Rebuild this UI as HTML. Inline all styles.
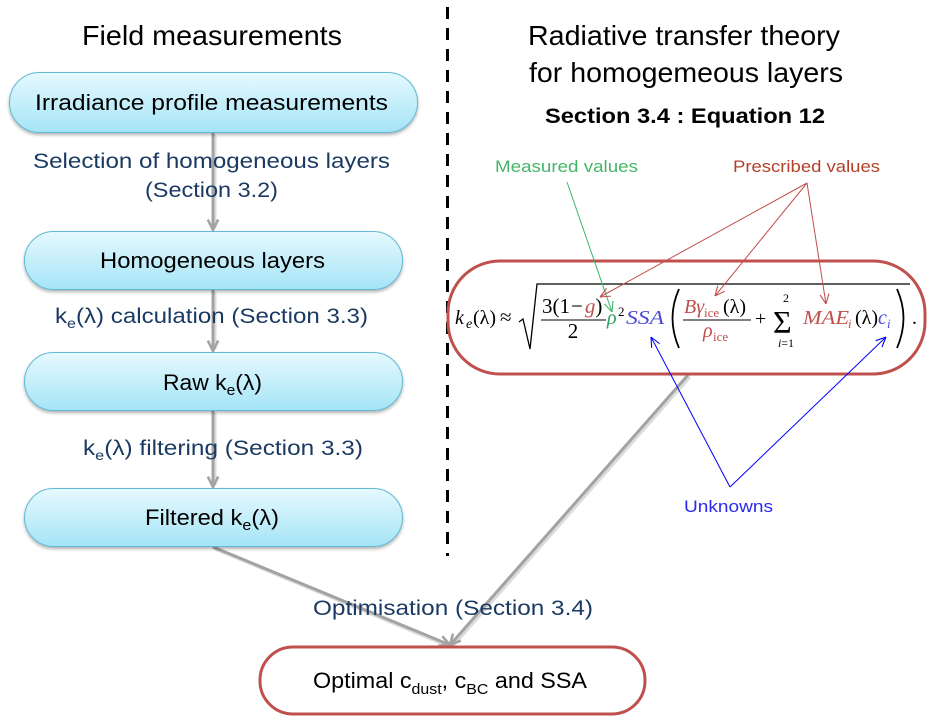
<!DOCTYPE html>
<html><head><meta charset="utf-8"><style>
html,body{margin:0;padding:0;background:#fff;}
svg{display:block;}
text{font-family:"Liberation Sans",sans-serif;}
.m{font-family:"Liberation Serif",serif;}
</style></head><body>
<svg width="933" height="722" viewBox="0 0 933 722" xmlns="http://www.w3.org/2000/svg">
<defs>
<linearGradient id="bg" x1="0" y1="0" x2="0" y2="1">
<stop offset="0" stop-color="#e6f9fe"/><stop offset="1" stop-color="#a4e4f7"/>
</linearGradient>
<filter id="sh" x="-5%" y="-20%" width="110%" height="150%">
<feDropShadow dx="0" dy="2" stdDeviation="1.5" flood-color="#000" flood-opacity="0.3"/>
</filter>
<marker id="mg" viewBox="0 0 10 10" refX="9" refY="5" markerWidth="13" markerHeight="13" markerUnits="userSpaceOnUse" orient="auto"><path d="M1,1 L9,5 L1,9" fill="none" stroke="#a3a3a3" stroke-width="2"/></marker>
<marker id="mr" viewBox="0 0 10 10" refX="10" refY="5" markerWidth="10" markerHeight="10" markerUnits="userSpaceOnUse" orient="auto"><path d="M0,0.5 L10,5 L0,9.5" fill="none" stroke="#c0504d" stroke-width="1.1"/></marker>
<marker id="mgr" viewBox="0 0 10 10" refX="10" refY="5" markerWidth="10" markerHeight="10" markerUnits="userSpaceOnUse" orient="auto"><path d="M0,0.5 L10,5 L0,9.5" fill="none" stroke="#3cb56a" stroke-width="1.1"/></marker>
<marker id="mb" viewBox="0 0 10 10" refX="10" refY="5" markerWidth="10" markerHeight="10" markerUnits="userSpaceOnUse" orient="auto"><path d="M0,0.5 L10,5 L0,9.5" fill="none" stroke="#0000ff" stroke-width="1.1"/></marker>
</defs>

<!-- dashed divider -->
<line x1="447.5" y1="7" x2="447.5" y2="556" stroke="#000" stroke-width="3" stroke-dasharray="12 9"/>

<!-- titles -->
<text x="82" y="45" font-size="28" textLength="260" lengthAdjust="spacingAndGlyphs">Field measurements</text>
<text x="528" y="45" font-size="28" textLength="312" lengthAdjust="spacingAndGlyphs">Radiative transfer theory</text>
<text x="529" y="82" font-size="28" textLength="314" lengthAdjust="spacingAndGlyphs">for homogemeous layers</text>
<text x="545" y="123" font-size="21" font-weight="bold" textLength="280" lengthAdjust="spacingAndGlyphs">Section 3.4 : Equation 12</text>

<!-- gray shadows for arrows -->
<g stroke="#dcdcdc" stroke-width="3" fill="none">
<line x1="215" y1="135" x2="215" y2="228"/>
<line x1="215" y1="292" x2="215" y2="349"/>
<line x1="215" y1="413" x2="215" y2="485"/>
<line x1="215" y1="549" x2="450" y2="647"/>
<line x1="690" y1="377" x2="452" y2="647"/>
</g>
<!-- gray arrows -->
<g stroke="#a3a3a3" stroke-width="3" fill="none">
<line x1="213" y1="133" x2="213" y2="230" marker-end="url(#mg)"/>
<line x1="213" y1="290" x2="213" y2="351" marker-end="url(#mg)"/>
<line x1="213" y1="411" x2="213" y2="487" marker-end="url(#mg)"/>
<line x1="213" y1="547" x2="450" y2="645" marker-end="url(#mg)"/>
<line x1="688" y1="375" x2="450" y2="645" marker-end="url(#mg)"/>
</g>

<!-- blue boxes -->
<g filter="url(#sh)" fill="url(#bg)" stroke="#62b9d3" stroke-width="1">
<rect x="9.5" y="72.5" width="408" height="60" rx="30" ry="30"/>
<rect x="24.5" y="231.5" width="378" height="58" rx="29" ry="29"/>
<rect x="24.5" y="352.5" width="378" height="58" rx="29" ry="29"/>
<rect x="24.5" y="488.5" width="378" height="58" rx="29" ry="29"/>
</g>

<!-- box texts -->
<text x="35" y="110" font-size="22" textLength="353" lengthAdjust="spacingAndGlyphs">Irradiance profile measurements</text>
<text x="100" y="268" font-size="22" textLength="225" lengthAdjust="spacingAndGlyphs">Homogeneous layers</text>
<text x="163" y="390" font-size="22" textLength="99" lengthAdjust="spacingAndGlyphs">Raw k<tspan dy="5" font-size="15">e</tspan><tspan dy="-5">(λ)</tspan></text>
<text x="145" y="525" font-size="22" textLength="134" lengthAdjust="spacingAndGlyphs">Filtered k<tspan dy="5" font-size="15">e</tspan><tspan dy="-5">(λ)</tspan></text>

<!-- connector labels -->
<g fill="#1b3a62" font-size="21">
<text x="33" y="168" textLength="357" lengthAdjust="spacingAndGlyphs">Selection of homogeneous layers</text>
<text x="145" y="197" textLength="133" lengthAdjust="spacingAndGlyphs">(Section 3.2)</text>
<text x="55" y="323" textLength="313" lengthAdjust="spacingAndGlyphs">k<tspan dy="5" font-size="14">e</tspan><tspan dy="-5">(λ) calculation (Section 3.3)</tspan></text>
<text x="83" y="455" textLength="280" lengthAdjust="spacingAndGlyphs">k<tspan dy="5" font-size="14">e</tspan><tspan dy="-5">(λ) filtering (Section 3.3)</tspan></text>
<text x="313" y="615" textLength="280" lengthAdjust="spacingAndGlyphs">Optimisation (Section 3.4)</text>
</g>

<!-- formula box -->
<rect x="448" y="261" width="477" height="113" rx="52" ry="52" fill="#fff" stroke="#c0504d" stroke-width="3"/>
<!-- bottom result box -->
<rect x="260" y="647" width="385" height="67" rx="33" ry="33" fill="#fff" stroke="#c0504d" stroke-width="3"/>
<text x="313" y="688" font-size="22" textLength="274" lengthAdjust="spacingAndGlyphs">Optimal c<tspan dy="6" font-size="15">dust</tspan><tspan dy="-6">, c</tspan><tspan dy="6" font-size="15">BC</tspan><tspan dy="-6"> and SSA</tspan></text>

<!-- formula -->
<g class="m" font-size="20">
<text class="m" x="455" y="324" font-style="italic">k</text>
<text class="m" x="466" y="328" font-size="14" font-style="italic">e</text>
<text class="m" x="473" y="324">(λ)</text>
<text class="m" x="500" y="324" font-size="21">≈</text>
<path d="M519,322 L523,319 L530,349 L537,284 L910,284" fill="none" stroke="#000" stroke-width="1.3"/>
<text class="m" x="542" y="313" font-size="21">3(1<tspan dx="1">−</tspan><tspan dx="2" fill="#c0504d" font-style="italic">g</tspan>)</text>
<line x1="541" y1="320" x2="606" y2="320" stroke="#000" stroke-width="1"/>
<text class="m" x="573" y="338" font-size="21" text-anchor="middle">2</text>
<text class="m" x="607" y="324" fill="#2e9e5e" font-style="italic">ρ</text>
<text class="m" x="618" y="316" font-size="13">2</text>
<text class="m" x="626" y="324" fill="#4b4bd6" font-style="italic" textLength="38" lengthAdjust="spacingAndGlyphs">SSA</text>
<path d="M679,289 Q666,318 679,348" fill="none" stroke="#000" stroke-width="1.8"/>
<text class="m" x="684" y="313" fill="#c0504d" font-style="italic">Bγ</text>
<text class="m" x="704" y="317" font-size="13" fill="#c0504d">ice</text>
<text class="m" x="723" y="313">(λ)</text>
<line x1="683" y1="320" x2="751" y2="320" stroke="#000" stroke-width="1"/>
<text class="m" x="703" y="337" fill="#c0504d" font-style="italic">ρ</text>
<text class="m" x="713" y="341" font-size="13" fill="#c0504d">ice</text>
<text class="m" x="755" y="325">+</text>
<text class="m" x="773" y="333" font-size="32">Σ</text>
<text class="m" x="786" y="302" font-size="12" text-anchor="middle">2</text>
<text class="m" x="786" y="347" font-size="12" text-anchor="middle"><tspan font-style="italic">i</tspan>=1</text>
<text class="m" x="803" y="324" fill="#c0504d" font-style="italic" textLength="46" lengthAdjust="spacingAndGlyphs">MAE</text>
<text class="m" x="848" y="328" font-size="13" fill="#c0504d" font-style="italic">i</text>
<text class="m" x="855" y="324">(λ)</text>
<text class="m" x="878" y="324" fill="#4b4bd6" font-style="italic">c</text>
<text class="m" x="887" y="328" font-size="13" fill="#4b4bd6" font-style="italic">i</text>
<path d="M897,289 Q910,318 897,348" fill="none" stroke="#000" stroke-width="1.8"/>
<text class="m" x="912" y="324">.</text>
</g>

<!-- annotations -->
<text x="495" y="172" font-size="17" fill="#45b56a" textLength="143" lengthAdjust="spacingAndGlyphs">Measured values</text>
<text x="733" y="172" font-size="17" fill="#b2402a" textLength="147" lengthAdjust="spacingAndGlyphs">Prescribed values</text>
<text x="684" y="512" font-size="17" fill="#2a2af0" textLength="89" lengthAdjust="spacingAndGlyphs">Unknowns</text>

<line x1="567" y1="182" x2="612" y2="312" stroke="#3cb56a" stroke-width="1" marker-end="url(#mgr)"/>
<g stroke="#c0504d" stroke-width="1" fill="none">
<line x1="807" y1="183" x2="600" y2="297" marker-end="url(#mr)"/>
<line x1="807" y1="183" x2="715" y2="296" marker-end="url(#mr)"/>
<line x1="807" y1="183" x2="826" y2="304" marker-end="url(#mr)"/>
</g>
<g stroke="#0000ff" stroke-width="1" fill="none">
<line x1="730" y1="487" x2="651" y2="337" marker-end="url(#mb)"/>
<line x1="730" y1="487" x2="886" y2="337" marker-end="url(#mb)"/>
</g>
</svg>
</body></html>
